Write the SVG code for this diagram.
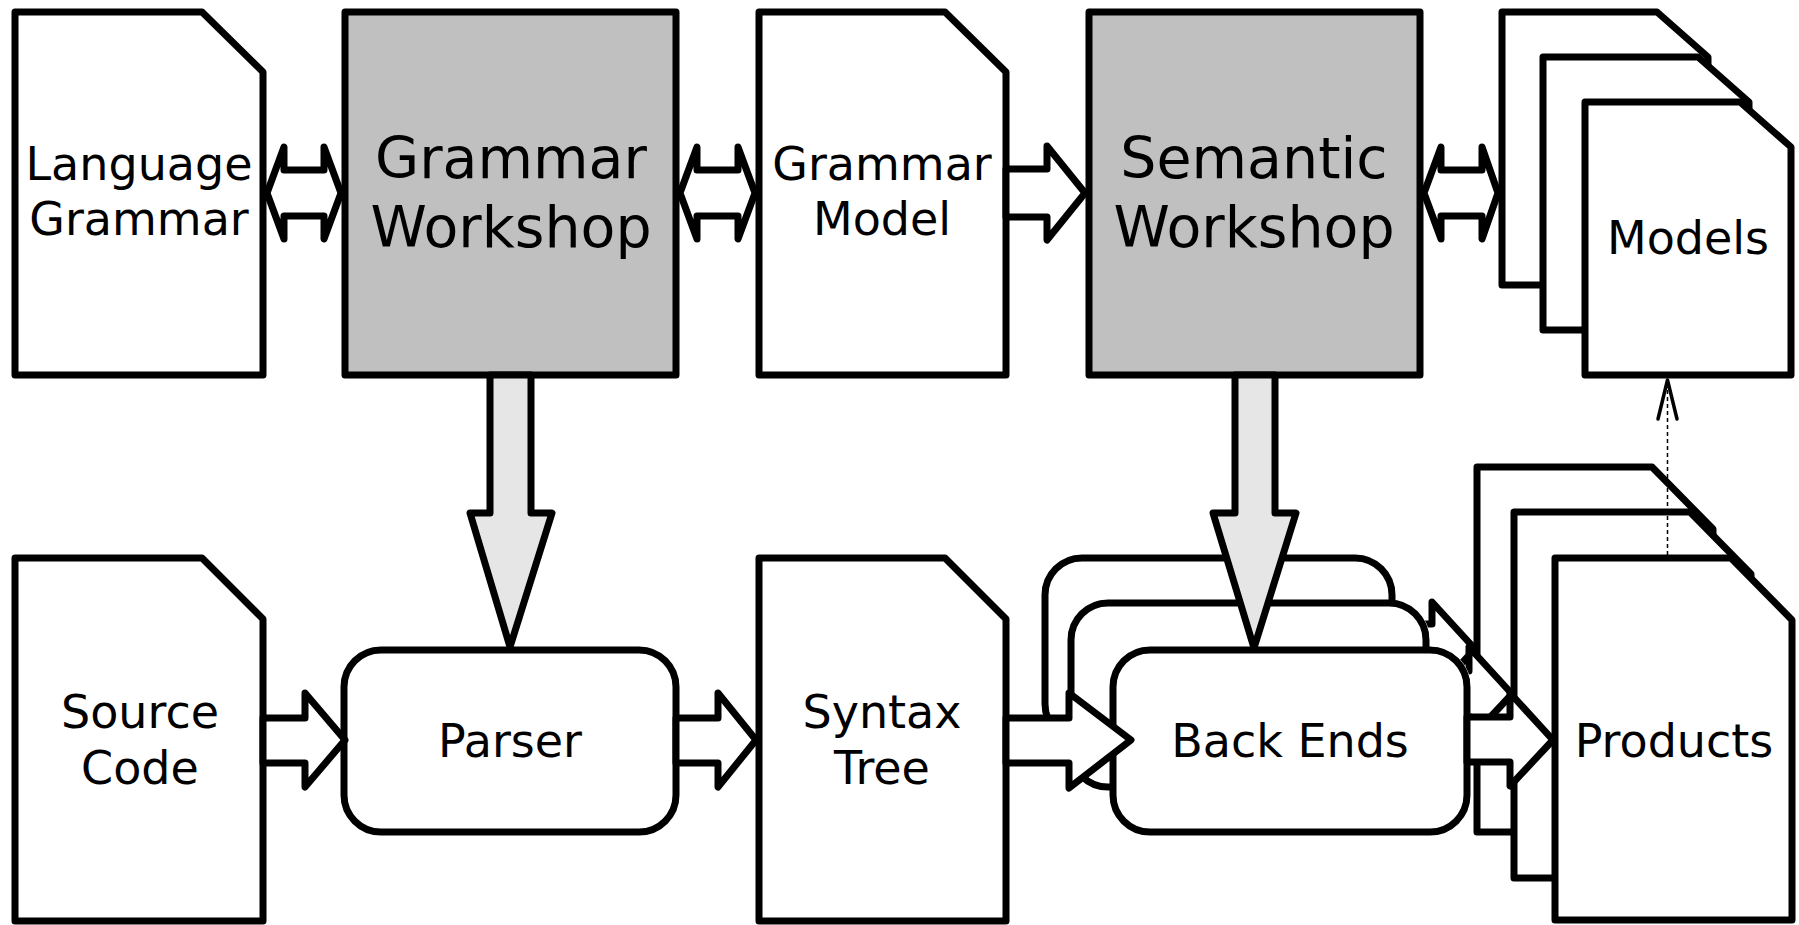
<svg xmlns="http://www.w3.org/2000/svg" width="1799" height="925" viewBox="0 0 1799 925">
  <style>
    .doc { fill: #ffffff; stroke: #000000; stroke-width: 7; stroke-linejoin: round; }
    .ws { fill: #c0c0c0; stroke: #000000; stroke-width: 7; stroke-linejoin: round; }
    .proc { fill: #ffffff; stroke: #000000; stroke-width: 7; }
    .arrow { fill: #ffffff; stroke: #000000; stroke-width: 7; stroke-linejoin: round; }
    .bigarrow { fill: #e6e6e6; stroke: #000000; stroke-width: 7; stroke-linejoin: round; }
    .dash { fill: none; stroke: #000000; stroke-width: 1.5; stroke-dasharray: 4 3; }
    .open { fill: none; stroke: #000000; stroke-width: 3.5; stroke-linecap: round; stroke-linejoin: round; }
    text { font-family: "DejaVu Sans", "Liberation Sans", sans-serif; text-anchor: middle; fill: #000000; }
    .lbl { font-size: 46px; }
    .big { font-size: 57px; }
  </style>
  <defs>
    <!-- everything outside the middle back-end box (stroke included) -->
    <clipPath id="outside-mid-box">
      <path clip-rule="evenodd" d="M0,0 H1799 V925 H0 Z M1108,599 H1389 A41,41 0 0 1 1430,640 V750 A41,41 0 0 1 1389,791 H1108 A41,41 0 0 1 1067,750 V640 A41,41 0 0 1 1108,599 Z"/>
    </clipPath>
    <!-- everything outside the front back-end box (stroke included) -->
    <clipPath id="outside-front-box">
      <path clip-rule="evenodd" d="M0,0 H1799 V925 H0 Z M1150,646 H1430 A41,41 0 0 1 1471,687 V795 A41,41 0 0 1 1430,836 H1150 A41,41 0 0 1 1109,795 V687 A41,41 0 0 1 1150,646 Z"/>
    </clipPath>
  </defs>

  <!-- top row -->
  <g id="language-grammar">
    <path class="doc" d="M15,12 H202 L263,72 V375 H15 Z"/>
    <text class="lbl" x="139" y="180">Language</text>
    <text class="lbl" x="139" y="235">Grammar</text>
  </g>

  <g id="grammar-workshop">
    <rect class="ws" x="345" y="12" width="331" height="363"/>
    <text class="big" x="511" y="178">Grammar</text>
    <text class="big" x="511" y="247">Workshop</text>
  </g>

  <g id="grammar-model">
    <path class="doc" d="M759,12 H945 L1006,72 V375 H759 Z"/>
    <text class="lbl" x="882" y="180">Grammar</text>
    <text class="lbl" x="882" y="235">Model</text>
  </g>

  <g id="semantic-workshop">
    <rect class="ws" x="1089" y="12" width="331" height="363"/>
    <text class="big" x="1254" y="178">Semantic</text>
    <text class="big" x="1254" y="247">Workshop</text>
  </g>

  <g id="models">
    <path class="doc" d="M1502,12 H1657 L1708,57 V285 H1502 Z"/>
    <path class="doc" d="M1543,57 H1698 L1749,102 V330 H1543 Z"/>
    <path class="doc" d="M1585,102 H1740 L1791,147 V375 H1585 Z"/>
    <text class="lbl" x="1688" y="254">Models</text>
  </g>

  <!-- bottom row -->
  <g id="source-code">
    <path class="doc" d="M15,558 H202 L263,619 V921 H15 Z"/>
    <text class="lbl" x="140" y="728">Source</text>
    <text class="lbl" x="140" y="784">Code</text>
  </g>

  <g id="parser">
    <rect class="proc" x="344" y="650" width="332" height="182" rx="37" ry="37"/>
    <text class="lbl" x="510" y="757">Parser</text>
  </g>

  <g id="syntax-tree">
    <path class="doc" d="M759,558 H945 L1006,619 V921 H759 Z"/>
    <text class="lbl" x="882" y="728">Syntax</text>
    <text class="lbl" x="882" y="784">Tree</text>
  </g>

  <g id="back-ends">
    <rect class="proc" x="1045" y="558" width="347" height="183" rx="37" ry="37"/>
    <rect class="proc" x="1071" y="603" width="355" height="184" rx="37" ry="37"/>
    <rect class="proc" x="1113" y="650" width="354" height="182" rx="37" ry="37"/>
    <text class="lbl" x="1290" y="757">Back Ends</text>
  </g>

  <g id="products">
    <path class="doc" d="M1477,467 H1652 L1713,529 V832 H1477 Z"/>
    <path class="doc" d="M1514,512 H1690 L1751,574 V878 H1514 Z"/>
    <path class="doc" d="M1555,558 H1731 L1792,620 V920 H1555 Z"/>
    <text class="lbl" x="1674" y="757">Products</text>
  </g>

  <g id="connectors">
    <!-- two-way links in the top row -->
    <path class="arrow" d="M267,193 L284,147 V170 H324 V147 L341,193 L324,239 V216 H284 V239 Z"/>
    <path class="arrow" d="M680,193 L697,147 V170 H738 V147 L755,193 L738,239 V216 H697 V239 Z"/>
    <path class="arrow" d="M1424,193 L1441,147 V170 H1482 V147 L1498,193 L1482,239 V216 H1441 V239 Z"/>
    <!-- grammar model feeds the semantic workshop -->
    <path class="arrow" d="M1006,169 H1047 V146 L1085,193 L1047,240 V217 H1006 Z"/>

    <!-- workshops generate the parser and the back ends -->
    <path class="bigarrow" d="M490,375 V513 H470 L510,647 L552,513 H531 V375 Z"/>
    <path class="bigarrow" d="M1235,375 V513 H1213 L1254,648 L1296,513 H1275 V375 Z"/>

    <!-- processing chain -->
    <path class="arrow" d="M263,718 H305 V693 L345,740 L305,787 V763 H263 Z"/>
    <path class="arrow" d="M676,718 H718 V693 L756,740 L718,787 V763 H676 Z"/>
    <path class="arrow" d="M1006,718 H1069 V693 L1131,740 L1069,788 V763 H1006 Z"/>

    <!-- each back end emits its product; the rear ones sit behind the boxes in front -->
    <g clip-path="url(#outside-front-box)">
      <path class="arrow" clip-path="url(#outside-mid-box)" d="M1392,624 H1432 V602 L1475,649 L1432,695 V669 H1392 Z"/>
      <path class="arrow" d="M1426,671 H1469 V647 L1512,694 L1469,740 V716 H1426 Z"/>
    </g>
    <path class="arrow" d="M1467,717 H1510 V693 L1553,740 L1510,786 V762 H1467 Z"/>

    <!-- products refer back to the models -->
    <line class="dash" x1="1667.5" y1="555" x2="1667.5" y2="384"/>
    <polyline class="open" points="1658,419 1667.5,380 1677,419"/>
  </g>
</svg>
